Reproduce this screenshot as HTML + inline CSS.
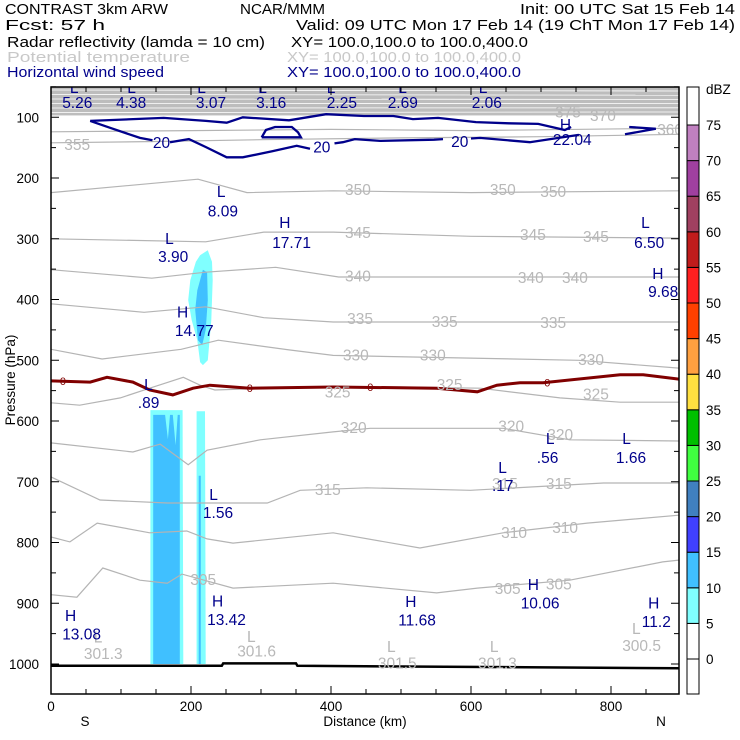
<!DOCTYPE html>
<html><head><meta charset="utf-8">
<style>
html,body{margin:0;padding:0;background:#fff;}
svg{display:block;font-family:"Liberation Sans",sans-serif;}
.hd{font-size:15px;fill:#000;}
.nv{fill:#00008b;font-size:15.5px;}
.gy{fill:#b8b8b8;font-size:15.5px;}
.tk{font-size:13.5px;fill:#000;}
</style></head>
<body>
<svg id="chart" width="740" height="740" viewBox="0 0 740 740" xmlns="http://www.w3.org/2000/svg">
<g>
<text class="hd" x="5" y="14" textLength="163" lengthAdjust="spacingAndGlyphs">CONTRAST  3km ARW</text>
<text class="hd" x="240" y="14" textLength="85" lengthAdjust="spacingAndGlyphs">NCAR/MMM</text>
<text class="hd" x="520" y="14" textLength="215" lengthAdjust="spacingAndGlyphs">Init: 00 UTC Sat 15 Feb 14</text>
<text class="hd" x="5" y="30" textLength="100" lengthAdjust="spacingAndGlyphs">Fcst:    57 h</text>
<text class="hd" x="296" y="30" textLength="439" lengthAdjust="spacingAndGlyphs">Valid: 09 UTC Mon 17 Feb 14 (19 ChT Mon 17 Feb 14)</text>
<text class="hd" x="7" y="47" textLength="258" lengthAdjust="spacingAndGlyphs">Radar reflectivity (lamda = 10 cm)</text>
<text class="hd" x="291" y="47" textLength="237" lengthAdjust="spacingAndGlyphs">XY= 100.0,100.0 to 100.0,400.0</text>
<text class="hd" x="7" y="62" textLength="183" lengthAdjust="spacingAndGlyphs" style="fill:#c8c8c8">Potential temperature</text>
<text class="hd" x="287" y="62" textLength="234" lengthAdjust="spacingAndGlyphs" style="fill:#c8c8c8">XY= 100.0,100.0 to 100.0,400.0</text>
<text class="hd" x="7" y="77" textLength="157" lengthAdjust="spacingAndGlyphs" style="fill:#00008b">Horizontal wind speed</text>
<text class="hd" x="287" y="77" textLength="234" lengthAdjust="spacingAndGlyphs" style="fill:#00008b">XY= 100.0,100.0 to 100.0,400.0</text>
</g>
<defs><clipPath id="pc"><rect x="51" y="87" width="628" height="607"/></clipPath></defs>
<g id="plot" clip-path="url(#pc)"></g>
<g id="axes"></g>
<g id="cbar"></g>
</svg>
<script>
// ---- data ----
const xTicks=[0,200,400,600,800];
const pTicks=[100,200,300,400,500,600,700,800,900,1000];
const cbLevels=[0,5,10,15,20,25,30,35,40,45,50,55,60,65,70,75];
const cbColors=["#ffffff","#80ffff","#40c0ff","#4040ff","#4080c0","#40ff40","#00c000","#ffe040","#ffa040","#ff4000","#ff2020","#c01c1c","#a04060","#a040a0","#c080c0","#ffffff"];
// theta contours: [km, hPa]
const th330=[[0,482],[73,498],[186,482],[239,467],[340,483],[403,492],[754,500],[897,513]];
const th335=[[0,407],[133,421],[221,412],[304,430],[403,437],[897,437]];
const th340=[[0,351],[144,365],[221,355],[321,347],[411,363],[897,363]];
const th345=[[0,300],[221,305],[304,289],[403,289],[600,296],[897,299]];
const th350=[[0,224],[210,202],[280,224],[403,221],[600,224],[897,221]];
const th355=[[0,142],[150,140],[300,137],[500,134],[700,132],[897,128]];
const th360=[[0,124],[200,122],[400,120],[600,122],[897,118]];
const th325=[[0,570],[41,574],[99,562],[141,546],[189,528],[213,541],[234,549],[356,544],[499,544],[613,546],[727,562],[813,569],[897,569]];
const th320=[[0,636],[117,651],[156,638],[196,672],[223,648],[299,631],[403,618],[456,612],[646,612],[741,631],[897,633]];
const th315=[[0,692],[70,730],[166,735],[309,735],[356,714],[451,710],[599,714],[789,702],[897,702]];
const th310=[[0,791],[27,799],[66,768],[141,784],[194,781],[223,794],[260,801],[403,784],[527,809],[646,784],[766,768],[897,755]];
const th305=[[0,886],[37,890],[74,842],[127,862],[166,867],[187,852],[260,875],[403,867],[551,883],[609,875],[741,862],[874,832],[897,829]];
const freezing=[[0,534],[56,536],[80,528],[117,536],[141,549],[174,557],[203,546],[227,541],[284,546],[403,544],[551,546],[609,552],[637,541],[670,537],[703,537],[813,524],[846,524],[897,531]];
const ground=[[0,1003],[244,1003],[246,999],[350,999],[352,1003],[897,1007]];
const wind20a=[[56,106],[161,101],[221,106],[251,109],[274,100],[340,105],[393,95],[447,98],[489,98],[517,103],[553,101],[607,108],[654,110],[696,111],[734,121],[743,116]];
const wind20b=[[56,106],[86,118],[127,134],[145,138]];
const wind20c=[[170,141],[197,136],[221,149],[251,166],[274,166],[316,156],[351,147],[370,152]];
const wind20d=[[405,143],[417,141],[434,136],[470,139],[547,137],[560,136]];
const wind20e=[[600,135],[613,134],[684,141],[731,133],[754,129]];
const wind20f=[[820,128],[864,119],[826,116]];
const wind20g=[[301,133],[307,121],[320,116],[344,116],[353,125],[357,133],[301,133]];
const dbz5a=[[213,327],[224,319],[230,338],[231,368],[229,434],[224,500],[217,508],[213,503],[209,467],[201,434],[196,401],[199,368],[207,338]];
const dbz10a=[[217,351],[223,355],[224,401],[221,450],[216,475],[210,467],[206,417],[209,385]];
const dbz5b=[[142,1000],[142,582],[188,582],[189,1000]];
const dbz10b=[[146,1000],[146,590],[163,590],[167,630],[170,590],[174,590],[178,640],[181,590],[184,590],[184,1000]];
const dbz5c=[[208,1000],[208,584],[220,584],[221,1000]];
const dbz10c=[[211,1000],[211,690],[214,690],[214,1000]];
// labels: [text, km, hPa] (text baseline-left)
const navyLabels=[["L",27,60],["5.26",16,85],["L",109,60],["4.38",93,85],["L",209,60],["3.07",207,85],["L",296,60],["3.16",293,85],["L",394,60],["2.25",394,85],["L",496,60],["2.69",481,85],["L",611,60],["2.06",601,85],
["H",727,121],["22.04",717,146],["L",237,231],["8.09",224,263],["H",326,282],["17.71",316,315],["L",163,309],["3.90",153,338],["L",843,282],["6.50",833,315],["H",859,366],["9.68",853,396],["H",180,430],["14.77",177,460],
["L",133,549],[".89",124,579],["L",707,638],[".56",694,669],["L",816,638],["1.66",807,669],["L",639,686],[".17",630,715],["L",226,730],["1.56",217,760],
["H",20,929],["13.08",16,960],["H",230,905],["13.42",223,936],["H",506,906],["11.68",496,937],["H",681,878],["10.06",671,909],["H",853,909],["11.2",844,939]];
const grayLabels=[["355",19,154],["375",720,100],["370",770,106],["360",866,129],["350",420,228],["350",627,228],["350",699,231],["345",420,299],["345",670,302],["345",760,305],
["340",420,370],["340",667,373],["340",730,373],["335",423,440],["335",544,445],["335",699,447],["330",417,500],["330",527,500],["330",753,508],["325",391,561],["325",551,549],["325",760,565],
["320",414,620],["320",639,617],["320",709,631],["315",377,722],["315",630,712],["315",707,712],["310",643,793],["310",716,784],["305",199,870],["305",634,885],["305",707,877],
["L",61,965],["301.3",47,992],["L",280,964],["301.6",266,988],["L",480,980],["301.5",467,1007],["L",627,980],["301.3",610,1007],["L",830,951],["300.5",816,979]];
// ---- axis functions ----
const X=km=>51+km*0.7;
const Y=p=>664-(1000-p)*0.6075;
const NS="http://www.w3.org/2000/svg";
function mk(tag,parent,attrs){const e=document.createElementNS(NS,tag);for(const k in attrs)e.setAttribute(k,attrs[k]);parent.appendChild(e);return e;}
const plot=document.getElementById('plot');
const pts=a=>a.map(d=>X(d[0]).toFixed(1)+','+Y(d[1]).toFixed(1)).join(' ');
// top dense band
let band=mk('rect',plot,{x:51,y:87,width:628,height:Y(97)-87,fill:"#bdbdbd"});


for(let i=0;i<6;i++){let l=mk('line',plot,{x1:51,x2:679,y1:90+i*4.5,y2:91+i*4.2,stroke:"#fff","stroke-width":0.8});

}
// reflectivity
function poly(arr,fill,name){const e=mk('polygon',plot,{points:pts(arr),fill:fill});

}
poly(dbz5a,"#80ffff","reflectivity-5dbz-upper");poly(dbz10a,"#40c0ff","reflectivity-10dbz-upper");
poly(dbz5b,"#80ffff","reflectivity-5dbz-column");poly(dbz10b,"#40c0ff","reflectivity-10dbz-column");
poly(dbz5c,"#80ffff","reflectivity-5dbz-thin");poly(dbz10c,"#40c0ff","reflectivity-10dbz-thin");
// theta
[th305,th310,th315,th320,th325,th330,th335,th340,th345,th350,th355,th360].forEach(a=>{
const e=mk('polyline',plot,{points:pts(a),fill:"none",stroke:"#b4b4b4","stroke-width":1.2});

});
// freezing
let fz=mk('polyline',plot,{points:pts(freezing),fill:"none",stroke:"#800000","stroke-width":3});


[[17,534],[284,546],[456,544],[709,537]].forEach(d=>{const t=mk('text',plot,{x:X(d[0])-3,y:Y(d[1])+4,fill:"#800000","font-size":11});t.textContent="0";

});
// ground
let gr=mk('polyline',plot,{points:pts(ground),fill:"none",stroke:"#000","stroke-width":2.5});


// wind
[wind20a,wind20b,wind20c,wind20d,wind20e,wind20f,wind20g].forEach(a=>{
const e=mk('polyline',plot,{points:pts(a),fill:"none",stroke:"#00008b","stroke-width":2.3});

});
[[157,141],[386,148],[583,139]].forEach(d=>{const t=mk('text',plot,{x:X(d[0])-8,y:Y(d[1])+6,class:"nv"});t.textContent="20";

});
// labels
grayLabels.forEach(d=>{const t=mk('text',plot,{x:X(d[1]),y:Y(d[2]),class:"gy"});t.textContent=d[0];

});
navyLabels.forEach(d=>{const t=mk('text',plot,{x:X(d[1]),y:Y(d[2]),class:"nv"});t.textContent=d[0];

});
// axes
const ax=document.getElementById('axes');
let fr=mk('rect',ax,{x:51,y:87,width:628,height:607,fill:"none",stroke:"#000","stroke-width":1.5});


for(let km=0;km<=897;km+=50){const big=km%200===0;
[[694,694-(big?8:5)],[87,87+(big?8:5)]].forEach(s=>{const l=mk('line',ax,{x1:X(km),x2:X(km),y1:s[0],y2:s[1],stroke:"#000"});

});}
for(let p=50;p<=1049;p+=50){const big=p%100===0;
[[51,51+(big?8:5)],[679,679-(big?8:5)]].forEach(s=>{const l=mk('line',ax,{x1:s[0],x2:s[1],y1:Y(p),y2:Y(p),stroke:"#000"});

});}
xTicks.forEach(v=>{const t=mk('text',ax,{x:X(v),y:711,class:"tk","text-anchor":"middle"});t.textContent=v;

});
pTicks.forEach(v=>{const t=mk('text',ax,{x:39,y:Y(v)+5,class:"tk","text-anchor":"end"});t.textContent=v;

});
[["S",85],["Distance (km)",365],["N",661]].forEach(d=>{const t=mk('text',ax,{x:d[1],y:726,class:"tk","text-anchor":"middle","font-size":14});t.textContent=d[0];

});
let yt=mk('text',ax,{x:0,y:0,class:"tk","text-anchor":"middle",transform:"translate(15,380) rotate(-90)"});yt.textContent="Pressure (hPa)";


// colorbar
const cb=document.getElementById('cbar');
const CB=v=>659-v*7.12;
let cbo=mk('rect',cb,{x:687,y:CB(0),width:12,height:694-CB(0),fill:"#fff",stroke:"#000"});


cbLevels.forEach((v,i)=>{const top=i===cbLevels.length-1?87:CB(v+5);
const r=mk('rect',cb,{x:687,y:top,width:12,height:CB(v)-top,fill:cbColors[i],stroke:"#000"});


const t=mk('text',cb,{x:706,y:CB(v)+5,class:"tk","font-size":14});t.textContent=v;

});
let du=mk('text',cb,{x:706,y:94,class:"tk","font-size":14});du.textContent="dBZ";


</script>
</body></html>
